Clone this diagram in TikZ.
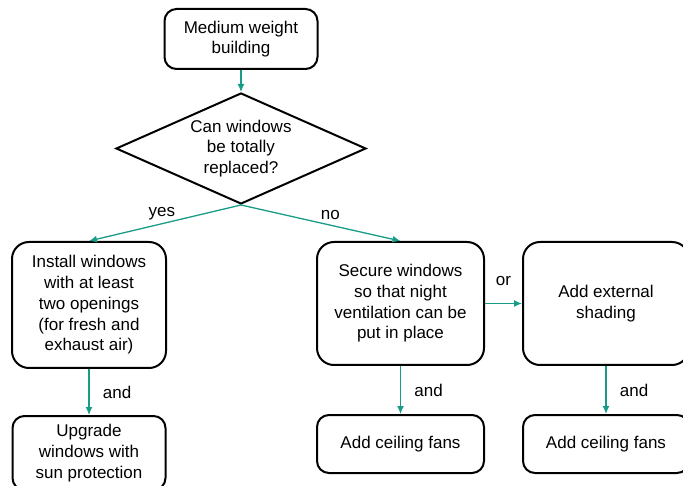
\documentclass[tikz,border=0pt]{standalone}
\usepackage{fontspec}
\setmainfont{Liberation Sans}
\usetikzlibrary{shapes.geometric,arrows.meta}
\definecolor{flowteal}{RGB}{24,156,136}

\begin{document}
\begin{tikzpicture}[x=1pt,y=-1pt,
        font=\fontsize{17}{20.7}\selectfont,
        box/.style={draw,line width=2pt,rounded corners=12pt,align=center,inner sep=0pt},
        bigbox/.style={box,rounded corners=17pt},
        decision/.style={draw,line width=2pt,diamond,aspect=2.25,inner sep=0pt,
            minimum width=250pt,minimum height=111pt,align=center},
        flow/.style={draw=flowteal,line width=1.3pt,-{Latex[length=8pt,width=7pt]}}]
        \useasboundingbox (0,0) rectangle (683,486);
        % question and the two branches
        \node[box,minimum width=153pt,minimum height=60pt] (building) at (241,39) {Medium weight\\building};
        \node[decision] (replace) at (241,148.5) {Can windows\\be totally\\replaced?};
        \node[bigbox,minimum width=154pt,minimum height=126pt] (install) at (89,305)
            {Install windows\\with at least\\two openings\\(for fresh and\\exhaust air)};
        \node[bigbox,minimum width=167pt,minimum height=123pt] (secure) at (400.5,303.5)
            {Secure windows\\so that night\\ventilation can be\\put in place};
        \node[bigbox,minimum width=166pt,minimum height=123pt] (shading) at (606,303.5) {Add external\\shading};
        % bottom row
        \node[box,minimum width=153pt,minimum height=74pt] (upgrade) at (89,453) {Upgrade\\windows with\\sun protection};
        \node[box,minimum width=167pt,minimum height=58pt] (fansA) at (400.5,444) {Add ceiling fans};
        \node[box,minimum width=166pt,minimum height=58pt] (fansB) at (606,444) {Add ceiling fans};

        \draw[flow] (building) -- (replace);
        \draw[flow] (replace.south) -- node[above,pos=.52]{yes} (install.north);
        \draw[flow] (replace.south) -- node[above=2pt,pos=.56]{no} (secure.north);
        \draw[flow] (secure) -- node[above=14pt]{or} (shading);
        \draw[flow] (install) -- node[right=10pt]{and} (upgrade);
        \draw[flow] (secure) -- node[right=10pt]{and} (fansA);
        \draw[flow] (shading) -- node[right=10pt]{and} (fansB);
    \end{tikzpicture}
\end{document}
